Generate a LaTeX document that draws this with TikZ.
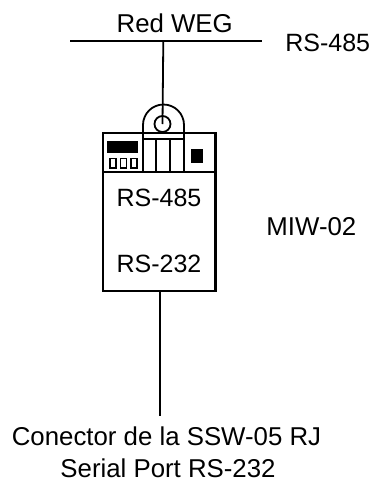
\documentclass[tikz,border=0pt]{standalone}
\usepackage{fontspec}
\setmainfont{Liberation Sans}
\begin{document}
\begin{tikzpicture}[x=1pt,y=-1pt,line width=1.8pt]
    \tikzset{lab/.style={inner sep=0pt,font=\fontsize{25}{28}\selectfont},
        biglab/.style={inner sep=0pt,font=\fontsize{25.8}{28}\selectfont}}
    \useasboundingbox (0,0) rectangle (373,483);
    \node[biglab] (red) at (174.7,23) {Red WEG};
    \node[lab] (bus) at (327.7,42.5) {RS-485};
    \node[biglab] (miw) at (311.4,226.5) {MIW-02};
    \node[lab] (rsa) at (159,198) {RS-485};
    \node[lab] (rsb) at (159,263.5) {RS-232};
    \node[biglab] (con) at (166.5,436) {Conector de la SSW-05 RJ};
    \node[biglab] (ser) at (168,468.5) {Serial Port RS-232};
    \coordinate (busl) at (70,41);
    \coordinate (busr) at (262,41);
    \coordinate (tap) at (163.3,41);
    \coordinate (eye) at (162.5,124);
    \coordinate (stub) at (160,291);
    \coordinate (foot) at (160,416);
    \draw (busl) -- (busr);
    \draw (tap) -- (eye);
    \draw[line width=2.4pt] (102.7,291) rectangle (215.3,133);
    \draw (102.7,172) -- (215.3,172);
    \draw (143,172) -- (143,125) arc (180:360:20.5) -- (184,172);
    \draw (eye) circle (8);
    \foreach \x in {156,170}
    {
        \draw (\x,139) -- (\x,172);
    }
    \draw (143,139) -- (184,139);
    \fill (107,141) rectangle (138,153);
    \foreach \x in {110,120.5,131}
    {
        \draw[line width=1.3pt] (\x,158.5) rectangle (\x+6,168);
    }
    \fill (191,149) rectangle (203,163);
    \draw (stub) -- (foot);
\end{tikzpicture}
\end{document}
